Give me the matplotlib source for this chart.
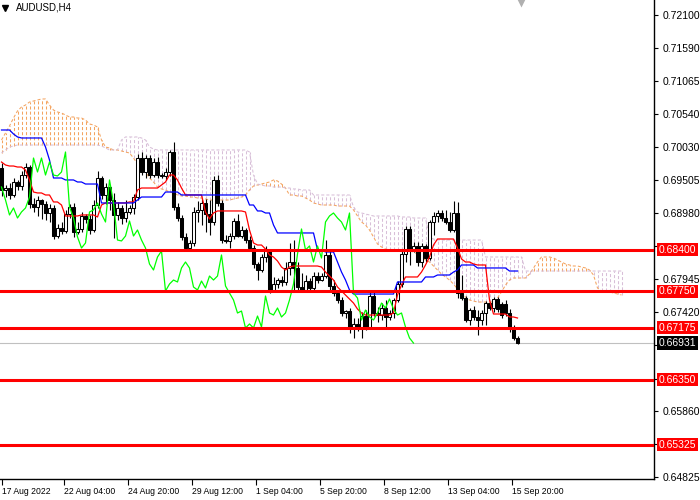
import numpy as np
import matplotlib
matplotlib.use("Agg")
import matplotlib.pyplot as plt
import matplotlib.transforms as mtransforms

plt.rcParams['font.family'] = ['Liberation Sans', 'DejaVu Sans']
plt.rcParams['lines.scale_dashes'] = False

symbol = "AUDUSD,H4"

opens = [
    0.69692, 0.69345, 0.69376, 0.69266, 0.69471, 0.69408, 0.69581, 0.69707, 0.69124, 0.69077,
    0.69187, 0.69124, 0.68982, 0.69061, 0.68619, 0.68746, 0.68698, 0.68966, 0.69077, 0.68683,
    0.68730, 0.68935, 0.68888, 0.68714, 0.69108, 0.69534, 0.69266, 0.69392, 0.69187, 0.68951,
    0.69061, 0.68903, 0.68998, 0.69061, 0.69234, 0.69849, 0.69629, 0.69849, 0.69581, 0.69786,
    0.69581, 0.69566, 0.69629, 0.69944, 0.69077, 0.68903, 0.68604, 0.68430, 0.68509, 0.68998,
    0.69030, 0.69140, 0.68966, 0.68840, 0.69503, 0.69140, 0.68556, 0.68541, 0.68619, 0.68856,
    0.68619, 0.68714, 0.68556, 0.68430, 0.68178, 0.68083, 0.68288, 0.68383, 0.67752, 0.67862,
    0.67925, 0.67894, 0.68115, 0.68209, 0.68115, 0.67815, 0.67768, 0.67909, 0.67799, 0.67988,
    0.67925, 0.67988, 0.68320, 0.67831, 0.67720, 0.67610, 0.67405, 0.67436, 0.67169, 0.67232,
    0.67169, 0.67357, 0.67184, 0.67673, 0.67405, 0.67373, 0.67484, 0.67342, 0.67405, 0.67610,
    0.67862, 0.68335, 0.68730, 0.68399, 0.68462, 0.68209, 0.68462, 0.68272, 0.68840, 0.68935,
    0.68982, 0.68903, 0.68840, 0.68714, 0.68982, 0.67720, 0.67641, 0.67294, 0.67452, 0.67342,
    0.67294, 0.67405, 0.67562, 0.67484, 0.67626, 0.67547, 0.67547, 0.67405, 0.67184, 0.67011,
]
highs = [
    0.69771, 0.69424, 0.69455, 0.69534, 0.69503, 0.69644, 0.69771, 0.69739, 0.69219, 0.69250,
    0.69203, 0.69171, 0.69124, 0.69108, 0.68809, 0.68840, 0.69030, 0.69124, 0.69140, 0.68840,
    0.68998, 0.68966, 0.68951, 0.69187, 0.69644, 0.69566, 0.69455, 0.69408, 0.69298, 0.69156,
    0.69108, 0.69187, 0.69108, 0.69282, 0.69912, 0.69944, 0.69897, 0.69897, 0.69849, 0.69865,
    0.69613, 0.69692, 0.69976, 0.70102, 0.69140, 0.68951, 0.68667, 0.68556, 0.69077, 0.69171,
    0.69203, 0.69203, 0.69187, 0.69566, 0.69581, 0.69187, 0.68635, 0.68667, 0.68903, 0.68966,
    0.68777, 0.68746, 0.68619, 0.68477, 0.68209, 0.68335, 0.68462, 0.68399, 0.67973, 0.67957,
    0.67988, 0.68209, 0.68509, 0.68556, 0.68209, 0.68036, 0.68004, 0.67957, 0.68051, 0.68051,
    0.68036, 0.68556, 0.68399, 0.67925, 0.67768, 0.67657, 0.67452, 0.67484, 0.67326, 0.67326,
    0.67420, 0.67452, 0.67736, 0.67768, 0.67499, 0.67562, 0.67610, 0.67452, 0.67641, 0.67909,
    0.68383, 0.68777, 0.68777, 0.68525, 0.68525, 0.68509, 0.68493, 0.68872, 0.68998, 0.69030,
    0.69030, 0.69030, 0.68998, 0.69171, 0.69156, 0.68004, 0.67673, 0.67484, 0.67515, 0.67452,
    0.67452, 0.67594, 0.67578, 0.67657, 0.67657, 0.67578, 0.67610, 0.67468, 0.67216, 0.67042,
]
lows = [
    0.69250, 0.69234, 0.69203, 0.69234, 0.69345, 0.69345, 0.69534, 0.69061, 0.68998, 0.68935,
    0.68888, 0.68872, 0.68840, 0.68572, 0.68588, 0.68651, 0.68667, 0.68903, 0.68604, 0.68651,
    0.68683, 0.68825, 0.68651, 0.68683, 0.69061, 0.69203, 0.69124, 0.69030, 0.68588, 0.68872,
    0.68809, 0.68840, 0.68966, 0.68966, 0.69187, 0.69581, 0.69534, 0.69534, 0.69550, 0.69534,
    0.69534, 0.69503, 0.69566, 0.69030, 0.68856, 0.68556, 0.68399, 0.68399, 0.68462, 0.68840,
    0.68793, 0.68683, 0.68635, 0.68793, 0.69092, 0.68509, 0.68509, 0.68430, 0.68572, 0.68604,
    0.68588, 0.68509, 0.68399, 0.68115, 0.67925, 0.68051, 0.68209, 0.67720, 0.67736, 0.67799,
    0.67831, 0.67846, 0.68004, 0.67768, 0.67768, 0.67736, 0.67752, 0.67768, 0.67768, 0.67878,
    0.67909, 0.67957, 0.67752, 0.67673, 0.67562, 0.67357, 0.67326, 0.67090, 0.67011, 0.67121,
    0.67011, 0.67137, 0.67153, 0.67357, 0.67263, 0.67294, 0.67184, 0.67294, 0.67326, 0.67578,
    0.67815, 0.68209, 0.68162, 0.68367, 0.68146, 0.68130, 0.68209, 0.68241, 0.68635, 0.68840,
    0.68856, 0.68809, 0.68683, 0.68683, 0.67641, 0.67610, 0.67263, 0.67216, 0.67294, 0.67058,
    0.67216, 0.67216, 0.67452, 0.67420, 0.67420, 0.67326, 0.67357, 0.67105, 0.66979, 0.66916,
]
closes = [
    0.69345, 0.69376, 0.69266, 0.69471, 0.69408, 0.69581, 0.69707, 0.69124, 0.69077, 0.69187,
    0.69124, 0.68982, 0.69061, 0.68619, 0.68746, 0.68698, 0.68966, 0.69077, 0.68683, 0.68730,
    0.68935, 0.68888, 0.68714, 0.69108, 0.69534, 0.69266, 0.69392, 0.69187, 0.68951, 0.69061,
    0.68903, 0.68998, 0.69061, 0.69234, 0.69849, 0.69629, 0.69849, 0.69581, 0.69786, 0.69581,
    0.69566, 0.69629, 0.69944, 0.69077, 0.68903, 0.68604, 0.68430, 0.68509, 0.68998, 0.69030,
    0.69140, 0.68966, 0.68840, 0.69503, 0.69140, 0.68556, 0.68541, 0.68619, 0.68856, 0.68619,
    0.68714, 0.68556, 0.68430, 0.68178, 0.68083, 0.68288, 0.68383, 0.67752, 0.67862, 0.67925,
    0.67894, 0.68115, 0.68209, 0.68115, 0.67815, 0.67768, 0.67909, 0.67799, 0.67988, 0.67925,
    0.67988, 0.68320, 0.67831, 0.67720, 0.67610, 0.67405, 0.67436, 0.67169, 0.67232, 0.67169,
    0.67357, 0.67184, 0.67673, 0.67405, 0.67373, 0.67484, 0.67342, 0.67405, 0.67610, 0.67862,
    0.68335, 0.68730, 0.68399, 0.68462, 0.68209, 0.68462, 0.68272, 0.68840, 0.68935, 0.68982,
    0.68903, 0.68840, 0.68714, 0.68982, 0.67720, 0.67641, 0.67294, 0.67452, 0.67342, 0.67294,
    0.67405, 0.67562, 0.67484, 0.67626, 0.67468, 0.67373, 0.67405, 0.67184, 0.67011, 0.66931,
]

tenkan = [
    0.69786, 0.69739, 0.69723, 0.69723, 0.69707, 0.69707, 0.69660, 0.69503, 0.69313, 0.69298,
    0.69298, 0.69266, 0.69266, 0.69156, 0.69156, 0.69108, 0.68935, 0.68935, 0.68935, 0.68935,
    0.68951, 0.68951, 0.68951, 0.68951, 0.68919, 0.69108, 0.69140, 0.69140, 0.69140, 0.69140,
    0.69140, 0.69140, 0.69156, 0.69156, 0.69345, 0.69376, 0.69376, 0.69376, 0.69376, 0.69376,
    0.69424, 0.69471, 0.69581, 0.69581, 0.69503, 0.69376, 0.69266, 0.69266, 0.69266, 0.69266,
    0.69266, 0.68998, 0.68888, 0.68982, 0.69014, 0.69014, 0.69014, 0.69014, 0.69014, 0.69014,
    0.69014, 0.68998, 0.68714, 0.68509, 0.68477, 0.68477, 0.68414, 0.68320, 0.68288, 0.68225,
    0.68130, 0.68083, 0.68130, 0.68146, 0.68146, 0.68146, 0.68146, 0.68146, 0.68146, 0.68146,
    0.68130, 0.68051, 0.67988, 0.67925, 0.67815, 0.67752, 0.67689, 0.67626, 0.67562, 0.67468,
    0.67405, 0.67373, 0.67373, 0.67373, 0.67373, 0.67373, 0.67373, 0.67373, 0.67405, 0.67689,
    0.67846, 0.67973, 0.67973, 0.67973, 0.67973, 0.68051, 0.68162, 0.68288, 0.68477, 0.68572,
    0.68572, 0.68572, 0.68572, 0.68572, 0.68430, 0.68257, 0.68209, 0.68209, 0.68178, 0.68162,
    0.68162, 0.68162, 0.67610, 0.67389, 0.67389, 0.67389, 0.67389, 0.67342, 0.67342, 0.67326,
]
kijun = [
    0.70291, 0.70291, 0.70291, 0.70228, 0.70181, 0.70165, 0.70165, 0.70165, 0.70165, 0.70165,
    0.70165, 0.70023, 0.69818, 0.69534, 0.69534, 0.69534, 0.69503, 0.69503, 0.69503, 0.69471,
    0.69471, 0.69439, 0.69439, 0.69439, 0.69439, 0.69140, 0.69140, 0.69140, 0.69140, 0.69140,
    0.69140, 0.69140, 0.69140, 0.69140, 0.69187, 0.69234, 0.69234, 0.69234, 0.69234, 0.69234,
    0.69234, 0.69313, 0.69313, 0.69313, 0.69313, 0.69266, 0.69266, 0.69266, 0.69266, 0.69266,
    0.69266, 0.69266, 0.69266, 0.69266, 0.69266, 0.69266, 0.69266, 0.69266, 0.69266, 0.69266,
    0.69266, 0.69266, 0.69108, 0.69108, 0.69014, 0.69014, 0.68982, 0.68982, 0.68793, 0.68667,
    0.68667, 0.68667, 0.68667, 0.68667, 0.68667, 0.68667, 0.68667, 0.68667, 0.68667, 0.68399,
    0.68399, 0.68367, 0.68367, 0.68367, 0.68209, 0.68051, 0.67925, 0.67768, 0.67704, 0.67704,
    0.67704, 0.67704, 0.67704, 0.67704, 0.67704, 0.67704, 0.67704, 0.67704, 0.67704, 0.67894,
    0.67894, 0.67894, 0.67894, 0.67894, 0.67894, 0.67894, 0.67973, 0.67973, 0.67973, 0.68004,
    0.68004, 0.68004, 0.68004, 0.68051, 0.68083, 0.68162, 0.68162, 0.68162, 0.68162, 0.68115,
    0.68115, 0.68115, 0.68115, 0.68115, 0.68115, 0.68115, 0.68115, 0.68067, 0.68067, 0.68067,
]
span_a = [
    0.70133, 0.70244, 0.70354, 0.70480, 0.70591, 0.70654, 0.70685, 0.70732, 0.70748, 0.70764,
    0.70780, 0.70780, 0.70685, 0.70606, 0.70575, 0.70559, 0.70527, 0.70496, 0.70496, 0.70480,
    0.70480, 0.70449, 0.70386, 0.70370, 0.70338, 0.70133, 0.70023, 0.70007, 0.69976, 0.69976,
    0.69960, 0.69944, 0.69928, 0.69849, 0.69755, 0.69692, 0.69629, 0.69534, 0.69471, 0.69392,
    0.69361, 0.69345, 0.69313, 0.69298, 0.69266, 0.69250, 0.69250, 0.69234, 0.69234, 0.69219,
    0.69219, 0.69203, 0.69187, 0.69187, 0.69187, 0.69187, 0.69187, 0.69187, 0.69203, 0.69219,
    0.69234, 0.69266, 0.69345, 0.69408, 0.69424, 0.69439, 0.69455, 0.69471, 0.69503, 0.69487,
    0.69439, 0.69376, 0.69266, 0.69266, 0.69250, 0.69250, 0.69219, 0.69187, 0.69140, 0.69124,
    0.69108, 0.69108, 0.69108, 0.69108, 0.69092, 0.69092, 0.69092, 0.69092, 0.69030, 0.68935,
    0.68840, 0.68793, 0.68714, 0.68604, 0.68493, 0.68446, 0.68414, 0.68399, 0.68399, 0.68399,
    0.68399, 0.68383, 0.68383, 0.68367, 0.68335, 0.68288, 0.68241, 0.68209, 0.68146, 0.68083,
    0.68020, 0.67973, 0.67925, 0.67862, 0.67783, 0.67704, 0.67657, 0.67610, 0.67594, 0.67578,
    0.67578, 0.67578, 0.67578, 0.67578, 0.67641, 0.67736, 0.67846, 0.67925, 0.67957, 0.67957,
    0.67957, 0.67957, 0.68020, 0.68115, 0.68209, 0.68288, 0.68288, 0.68288, 0.68272, 0.68241,
    0.68209, 0.68178, 0.68162, 0.68146, 0.68146, 0.68130, 0.68115, 0.68083, 0.68004, 0.67799,
    0.67752, 0.67752, 0.67736, 0.67720, 0.67704, 0.67689,
]
span_b = [
    0.69928, 0.69976, 0.70023, 0.70039, 0.70054, 0.70054, 0.70054, 0.70054, 0.70054, 0.70054,
    0.70054, 0.70054, 0.70054, 0.70054, 0.70054, 0.70054, 0.70054, 0.70054, 0.70054, 0.70054,
    0.70054, 0.70054, 0.70054, 0.70054, 0.70054, 0.70039, 0.70007, 0.69976, 0.69976, 0.69976,
    0.70133, 0.70181, 0.70181, 0.70181, 0.70181, 0.70165, 0.70133, 0.70023, 0.69991, 0.69976,
    0.69976, 0.69976, 0.69976, 0.69976, 0.69976, 0.69976, 0.69976, 0.69976, 0.69976, 0.69976,
    0.69976, 0.69976, 0.69976, 0.69976, 0.69976, 0.69976, 0.69976, 0.69976, 0.69976, 0.69976,
    0.69976, 0.69976, 0.69944, 0.69581, 0.69439, 0.69424, 0.69408, 0.69408, 0.69392, 0.69392,
    0.69392, 0.69376, 0.69376, 0.69361, 0.69361, 0.69345, 0.69345, 0.69345, 0.69266, 0.69266,
    0.69266, 0.69266, 0.69266, 0.69266, 0.69266, 0.69266, 0.69266, 0.69266, 0.69077, 0.68998,
    0.68982, 0.68966, 0.68951, 0.68935, 0.68935, 0.68935, 0.68935, 0.68935, 0.68935, 0.68935,
    0.68919, 0.68919, 0.68919, 0.68903, 0.68903, 0.68903, 0.68903, 0.68588, 0.68572, 0.68556,
    0.68556, 0.68556, 0.68556, 0.68556, 0.68556, 0.68556, 0.68556, 0.68556, 0.68556, 0.68556,
    0.68556, 0.68288, 0.68288, 0.68288, 0.68288, 0.68288, 0.68288, 0.68288, 0.68288, 0.68288,
    0.68288, 0.68067, 0.68067, 0.68067, 0.68067, 0.68067, 0.68067, 0.68067, 0.68067, 0.68067,
    0.68067, 0.68067, 0.68067, 0.68067, 0.68067, 0.68067, 0.68067, 0.68067, 0.68067, 0.68067,
    0.68067, 0.68067, 0.68067, 0.68067, 0.68067, 0.68067,
]

chikou_shift = 26
levels = [0.68400, 0.67750, 0.67175, 0.66350, 0.65325]
last_price = 0.66931
price_ticks = [0.72100, 0.71590, 0.71065, 0.70540, 0.70030, 0.69505, 0.68980, 0.68455,
               0.67945, 0.67420, 0.66895, 0.66370, 0.65860, 0.65335, 0.64825]
hidden_ticks = [0.68455, 0.66895, 0.66370, 0.65335]   # covered by the level labels
time_labels = ["17 Aug 2022", "22 Aug 04:00", "24 Aug 20:00", "29 Aug 12:00", "1 Sep 04:00",
               "5 Sep 20:00", "8 Sep 12:00", "13 Sep 04:00", "15 Sep 20:00"]
time_label_bars = [0, 16, 32, 48, 64, 80, 96, 112, 128]

# ---------------------------------------------------------------
W, H = 700, 500
AX_W, AX_H = 654, 479
fig = plt.figure(figsize=(W / 100, H / 100), dpi=100)
ax = fig.add_axes([0, (H - AX_H) / H, AX_W / W, AX_H / H])
px_per_bar = 4.0
ax.set_xlim(-0.375, -0.375 + AX_W / px_per_bar)
ax.set_ylim(0.64787, 0.72341)

o = np.array(opens); c = np.array(closes); h = np.array(highs); l = np.array(lows)
x = np.arange(len(c))

SANDY = '#F4A460'
THISTLE = '#D8BFD8'
dot = (0, (2.2, 1.5))

# Ichimoku cloud (hatched by vertical dotted lines)
a = np.array(span_a); b = np.array(span_b)
xc = np.arange(len(a))
cols = [SANDY if av >= bv else THISTLE for av, bv in zip(a, b)]
ax.vlines(xc, np.minimum(a, b), np.maximum(a, b), colors=cols, linestyles=dot,
          linewidth=0.75, zorder=1)
ax.plot(xc, a, color=SANDY, lw=0.75, ls=dot, zorder=1.1)
ax.plot(xc, b, color=THISTLE, lw=0.75, ls=dot, zorder=1.1)

# current price line
ax.axhline(last_price, color='#C0C0C0', lw=0.8, zorder=1.5)

# candles
ax.vlines(x, l, h, color='black', lw=0.8, zorder=2)
body_colors = ['white' if cc > oo else 'black' for oo, cc in zip(o, c)]
ax.bar(x, np.abs(c - o), bottom=np.minimum(o, c), width=0.55, color=body_colors,
       edgecolor='black', linewidth=0.75, zorder=2.1)

# Ichimoku lines
ax.plot(x, tenkan, color='#FF0000', lw=0.9, zorder=3)
ax.plot(x, kijun, color='#0000FF', lw=0.9, zorder=3)
chikou = c[chikou_shift:]
ax.plot(np.arange(len(chikou)), chikou, color='#00FF00', lw=0.9, zorder=3)

# horizontal levels
for lv in levels:
    ax.axhline(lv, color='#FF0000', lw=2.2, zorder=4)

# spines / axes
for s in ['top', 'left']:
    ax.spines[s].set_visible(False)
ax.spines['right'].set_linewidth(1.0)
ax.spines['bottom'].set_linewidth(1.0)

ax.yaxis.tick_right()
ax.set_yticks(price_ticks)
ax.set_yticklabels(["" if v in hidden_ticks else f"{v:.5f}" for v in price_ticks])
ax.tick_params(axis='y', direction='out', length=3, width=0.8, pad=3, labelsize=7.5)

xt = [time_label_bars[0]] + [bb - 0.5 for bb in time_label_bars[1:]]
ax.set_xticks(xt)
ax.set_xticklabels(time_labels, ha='left')
ax.tick_params(axis='x', direction='out', length=4, width=0.8, pad=2, labelsize=6.2)

# level labels on price scale
trans = mtransforms.blended_transform_factory(ax.transAxes, ax.transData)
for lv in levels:
    ax.text(1 + 5 / AX_W, lv, f"{lv:.5f}", transform=trans, color='white', fontsize=7.5,
            va='center', ha='left', zorder=6, clip_on=False,
            bbox=dict(boxstyle='square,pad=0.15', fc='#FF0000', ec='none'))
ax.text(1 + 5 / AX_W, last_price, f"{last_price:.5f}", transform=trans, color='white',
        fontsize=7.5, va='center', ha='left', zorder=6, clip_on=False,
        bbox=dict(boxstyle='square,pad=0.15', fc='black', ec='none'))

# title
ax.text(16 / AX_W, 1 - 7 / AX_H, symbol, transform=ax.transAxes, fontsize=7,
        va='center', ha='left', color='black', zorder=6)
ax.plot([5.5 / AX_W], [1 - 7.5 / AX_H], marker='v', ms=4, color='black',
        transform=ax.transAxes, zorder=6, clip_on=False)
# chart shift marker
ax.plot([521 / AX_W], [1 - 0.5 / AX_H], marker='v', ms=9, color='#B0B0B0', mec='none',
        transform=ax.transAxes, zorder=6, clip_on=False)

fig.savefig("out.png", dpi=100)
